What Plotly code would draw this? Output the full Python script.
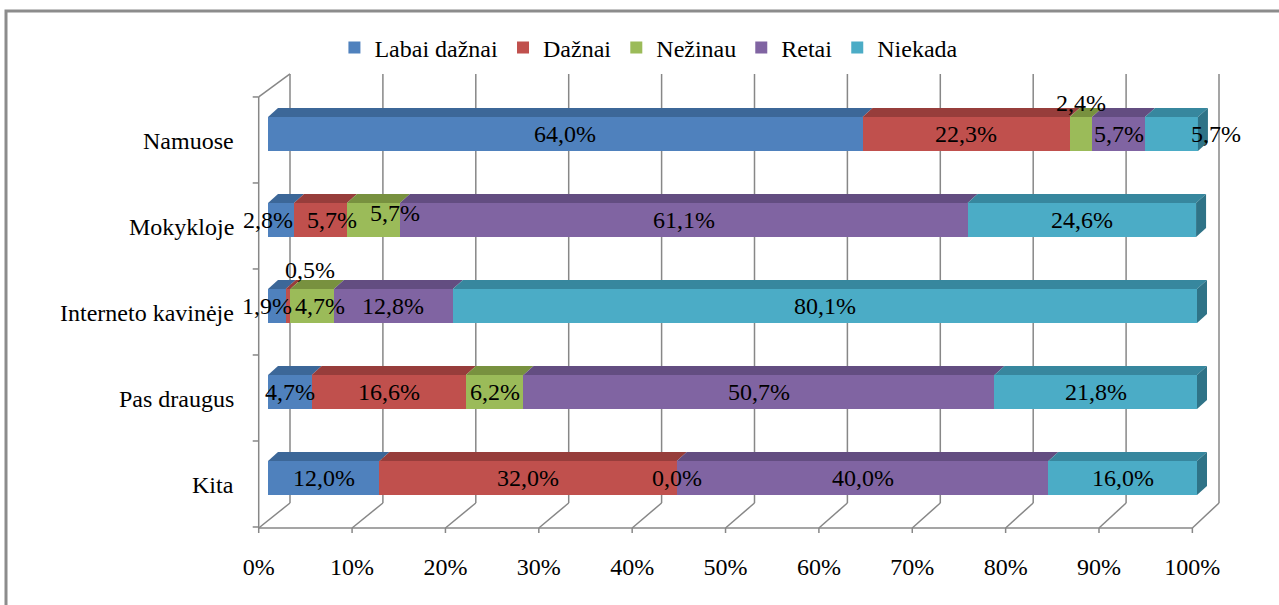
import plotly.graph_objects as go
import numpy as np

# data (percent of answers)
categories = ['Namuose', 'Mokykloje', 'Interneto kavinėje', 'Pas draugus', 'Kita']
series_names = ['Labai dažnai', 'Dažnai', 'Nežinau', 'Retai', 'Niekada']
labai_daznai = [64.0, 2.8, 1.9, 4.7, 12.0]
daznai = [22.3, 5.7, 0.5, 16.6, 32.0]
nezinau = [2.4, 5.7, 4.7, 6.2, 0.0]
retai = [5.7, 61.1, 12.8, 50.7, 40.0]
niekada = [5.7, 24.6, 80.1, 21.8, 16.0]
tick_labels = ['0%', '10%', '20%', '30%', '40%', '50%', '60%', '70%', '80%', '90%', '100%']

values = [labai_daznai, daznai, nezinau, retai, niekada]
front_colors = ['#4F81BD', '#C0504D', '#9BBB59', '#8064A2', '#4BACC6']
top_colors = ['#3C6798', '#973D3B', '#78913F', '#634D81', '#37879E']
side_color = '#2F7387'
grid_color = '#878787'
FONT = 'Liberation Serif, Times New Roman, serif'
FS = 24

# geometry of the fake 3D look (pixel sizes turned into axis units)
PX_X = 9.29          # px per percent
PX_Y = 86.0          # px per category
BAR_W = 0.395
DX, DY = 10 / PX_X, 9 / PX_Y
ypos = [4, 3, 2, 1, 0]

fig = go.Figure()
for name, vals, col in zip(series_names, values, front_colors):
    fig.add_trace(go.Bar(y=ypos, x=vals, name=name, orientation='h', width=BAR_W,
                         marker=dict(color=col, line_width=0)))

# labels that were dragged away from the segment centre in the original
label_shift = {
    (0, 2): (0, 31), (0, 4): (45, 0),
    (1, 0): (-13, 0), (1, 1): (12, 0), (1, 2): (22, 7),
    (2, 0): (-10, 0), (2, 1): (22, 36), (2, 2): (8, 0),
}

shapes = []
annotations = []

# back wall grid + floor + left wall
back_floor, back_top = (478 - 503) / PX_Y, (478 - 74) / PX_Y
front_floor, front_top = (478 - 528) / PX_Y, (478 - 97) / PX_Y
line = dict(color=grid_color, width=1.5)
front_x = [-1.0 + 10.05 * k for k in range(11)]
back_x = [10 * k + 22 / PX_X for k in range(11)]
for fx, bx in zip(front_x, back_x):
    shapes.append(dict(type='line', x0=bx, x1=bx, y0=back_floor, y1=back_top, line=line, layer='below'))
    shapes.append(dict(type='line', x0=fx, x1=bx, y0=front_floor, y1=back_floor, line=line, layer='below'))
    shapes.append(dict(type='line', x0=fx, x1=fx, y0=front_floor, y1=front_floor - 5 / PX_Y, line=line, layer='below'))
shapes.append(dict(type='line', x0=front_x[0], x1=front_x[-1], y0=front_floor, y1=front_floor, line=line, layer='below'))
shapes.append(dict(type='line', x0=front_x[0], x1=front_x[0], y0=front_floor, y1=front_top, line=line, layer='below'))
shapes.append(dict(type='line', x0=front_x[0], x1=back_x[0], y0=front_top, y1=back_top, line=line, layer='below'))
for k in range(6):
    yy = front_top - k
    shapes.append(dict(type='line', x0=front_x[0] - 6 / PX_X, x1=front_x[0], y0=yy, y1=yy, line=line, layer='below'))

# top faces of every segment, labels
base = np.zeros(len(categories))
for s, (vals, col) in enumerate(zip(values, top_colors)):
    for i, v in enumerate(vals):
        b, e = base[i], base[i] + v
        yt = ypos[i] + BAR_W / 2
        shapes.append(dict(type='path', layer='above', fillcolor=col, line_width=0,
                           path=f'M {b},{yt} L {e},{yt} L {e + DX},{yt + DY} L {b + DX},{yt + DY} Z'))
        xs, ys = label_shift.get((i, s), (0, 0))
        annotations.append(dict(x=(b + e) / 2, y=ypos[i], xref='x', yref='y', showarrow=False,
                                text=f'{v:.1f}%'.replace('.', ','), xshift=xs, yshift=ys,
                                font=dict(family=FONT, size=FS, color='black')))
    base += np.array(vals)

# right end faces
for i, e in enumerate(base):
    yt, yb = ypos[i] + BAR_W / 2, ypos[i] - BAR_W / 2
    shapes.append(dict(type='path', layer='above', fillcolor=side_color, line_width=0,
                       path=f'M {e},{yb} L {e},{yt} L {e + DX},{yt + DY} L {e + DX},{yb + DY} Z'))

# category labels
for cat, y in zip(categories, ypos):
    annotations.append(dict(x=(236 - 250) / 985, y=y, xref='paper', yref='y', xanchor='right',
                            showarrow=False, text=cat, yshift=-7,
                            font=dict(family=FONT, size=FS, color='black')))

# outer chart border (only top/left edge visible)
shapes.append(dict(type='rect', xref='paper', yref='paper', x0=(6 - 250) / 985, x1=1.2,
                   y0=-0.3, y1=(540 - 11) / 480, line=dict(color='#8C8C8C', width=3)))

fig.update_layout(
    barmode='stack', width=1279, height=605,
    margin=dict(l=250, r=44, t=60, b=65),
    paper_bgcolor='white', plot_bgcolor='white',
    font=dict(family=FONT, size=FS, color='black'),
    shapes=shapes, annotations=annotations,
    legend=dict(orientation='h', x=0.405, xanchor='center', y=1.025, yanchor='middle',
                font=dict(family=FONT, size=FS), traceorder='normal'),
    xaxis=dict(range=[-1.938, 104.09], showgrid=False, zeroline=False, showline=False,
               tickvals=front_x, ticktext=tick_labels, ticks='', ticklabelstandoff=10,
               tickfont=dict(family=FONT, size=FS)),
    yaxis=dict(range=[-0.721, 4.860], showgrid=False, zeroline=False, showline=False,
               showticklabels=False),
)

fig.write_html('out.html', config={'displayModeBar': False},
               post_script="document.body.style.margin='0';")
